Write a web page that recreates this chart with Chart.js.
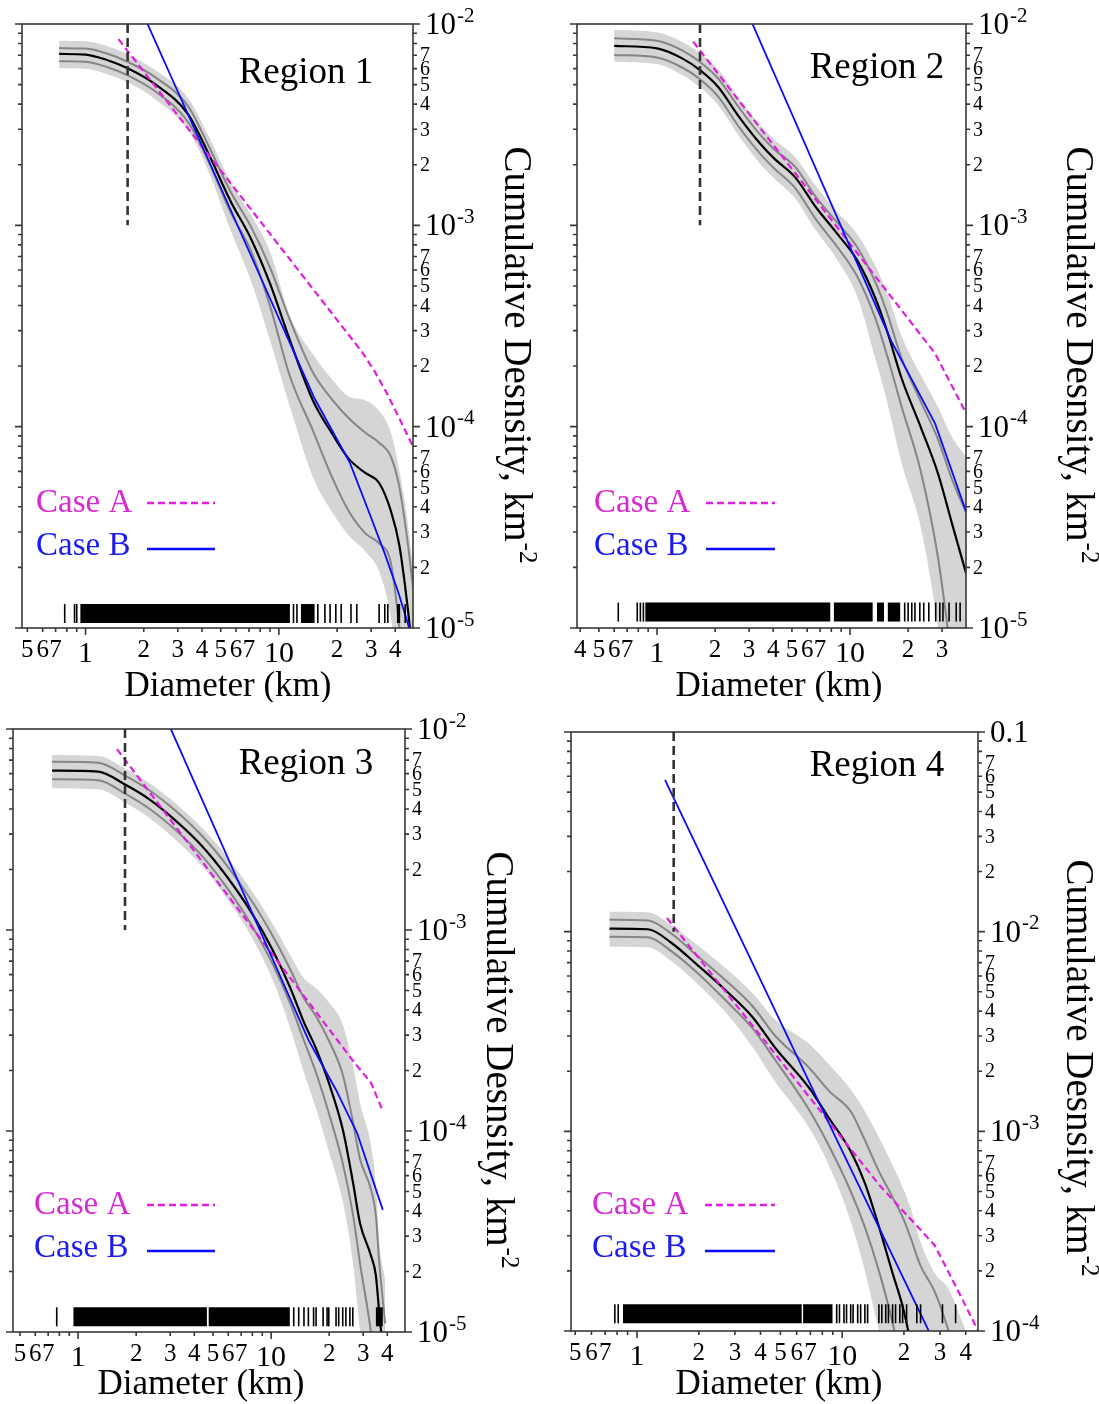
<!DOCTYPE html>
<html>
<head>
<meta charset="utf-8">
<script src="https://cdn.jsdelivr.net/npm/chart.js@4.4.1/dist/chart.umd.min.js"></script>
<style>
  html, body { margin: 0; padding: 0; background: #fff; }
  #wrap { position: relative; width: 1099px; height: 1404px; background: #fff; }
  canvas { position: absolute; }
</style>
</head>
<body>
<div id="wrap">
  <canvas id="c1" width="550" height="702" style="left:0;top:0"></canvas>
  <canvas id="c2" width="549" height="702" style="left:550px;top:0"></canvas>
  <canvas id="c3" width="550" height="702" style="left:0;top:702px"></canvas>
  <canvas id="c4" width="549" height="702" style="left:550px;top:702px"></canvas>
</div>
<script>
// ---- tick labels ----
const xTicksA = [0.5, 0.6, 0.7, 1, 2, 3, 4, 5, 6, 7, 10, 20, 30, 40];
const xLabelsA = ['5', '6', '7', '1', '2', '3', '4', '5', '6', '7', '10', '2', '3', '4'];
const xTicksB = [0.4, 0.5, 0.6, 0.7, 1, 2, 3, 4, 5, 6, 7, 10, 20, 30];
const xLabelsB = ['4', '5', '6', '7', '1', '2', '3', '4', '5', '6', '7', '10', '2', '3'];
const yDecadesA = [1e-5, 1e-4, 1e-3, 1e-2];
const yDecadeLabelsA = ['10^-5', '10^-4', '10^-3', '10^-2'];
const yDecadesB = [1e-4, 1e-3, 1e-2, 0.1];
const yDecadeLabelsB = ['10^-4', '10^-3', '10^-2', '0.1'];
const minorDigits = [2, 3, 4, 5, 6, 7];

// ---- Region 1 ----
const r1Diam = [0.73, 1.0, 1.3, 1.65, 2.3, 3.4, 4.4, 5.6, 7.2, 9.0, 11.4, 15, 19, 23, 28, 33, 38, 42, 46, 49.5];
const r1Median = [7.10e-3, 7.05e-3, 6.61e-3, 6.03e-3, 5.01e-3, 3.55e-3, 2.19e-3, 1.33e-3, 8.51e-4, 5.13e-4, 2.69e-4, 1.35e-4, 9.12e-5, 6.92e-5, 5.89e-5, 5.25e-5, 3.80e-5, 2.57e-5, 1.35e-5, 7.08e-6];
const r1Upper1 = [7.59e-3, 7.55e-3, 7.11e-3, 6.49e-3, 5.43e-3, 3.89e-3, 2.40e-3, 1.48e-3, 9.77e-4, 6.17e-4, 3.39e-4, 1.86e-4, 1.35e-4, 1.10e-4, 9.33e-5, 8.32e-5, 7.08e-5, 5.01e-5, 2.82e-5, 1.58e-5];
const r1Lower1 = [6.53e-3, 6.49e-3, 6.10e-3, 5.56e-3, 4.62e-3, 3.24e-3, 2.00e-3, 1.17e-3, 7.41e-4, 3.98e-4, 1.78e-4, 9.55e-5, 5.50e-5, 3.80e-5, 2.95e-5, 2.63e-5, 2.09e-5, 1.0e-5, 3.98e-6, 2.0e-6];
const r1Upper2 = [8.26e-3, 8.20e-3, 7.76e-3, 7.08e-3, 5.89e-3, 4.27e-3, 2.69e-3, 1.66e-3, 1.12e-3, 7.41e-4, 3.55e-4, 2.29e-4, 1.70e-4, 1.41e-4, 1.35e-4, 1.20e-4, 9.33e-5, 6.03e-5, 3.55e-5, 2.0e-5];
const r1Lower2 = [6.03e-3, 6.00e-3, 5.62e-3, 5.13e-3, 4.22e-3, 2.95e-3, 1.78e-3, 9.55e-4, 5.25e-4, 2.69e-4, 1.26e-4, 5.62e-5, 3.72e-5, 2.88e-5, 2.40e-5, 1.91e-5, 1.12e-5, 5.0e-6, 1.6e-6, 1.0e-6];
const r1CaseADiam = [1.48, 27, 31, 36, 42, 49.5];
const r1CaseA = [8.41e-3, 2.34e-4, 1.91e-4, 1.48e-4, 1.10e-4, 7.94e-5];
const r1CaseBDiam = [1.5, 4.39, 15.3, 23.3, 28.6, 35.3, 41.7, 47.2];
const r1CaseB = [2.04e-2, 2.04e-3, 1.38e-4, 6.61e-5, 3.98e-5, 2.34e-5, 1.48e-5, 1.0e-5];
const r1Cutoff = 1.65;
const r1RugBlocks = [[0.94, 11.4], [13.0, 15.3], [40.8, 42.4]];
const r1RugTicks = [0.78, 0.877, 0.90, 11.9, 12.4, 15.9, 17.3, 18.4, 19.7, 21, 23.6, 25.3, 33, 35.3, 36.6, 45];

// ---- Region 2 ----
const r2Diam = [0.60, 1.0, 1.35, 1.67, 2.07, 2.66, 3.42, 4.04, 5.2, 6.66, 8.56, 10.9, 13.5, 15.5, 18.5, 23.3, 28.6, 33.8, 40];
const r2Median = [7.78e-3, 7.57e-3, 6.75e-3, 5.90e-3, 4.88e-3, 3.46e-3, 2.55e-3, 2.15e-3, 1.73e-3, 1.23e-3, 9.12e-4, 6.70e-4, 4.37e-4, 3.02e-4, 1.74e-4, 9.89e-5, 5.83e-5, 3.29e-5, 1.86e-5];
const r2Upper1 = [8.49e-3, 8.26e-3, 7.40e-3, 6.47e-3, 5.37e-3, 3.84e-3, 2.82e-3, 2.39e-3, 1.95e-3, 1.38e-3, 1.035e-3, 7.78e-4, 5.25e-4, 3.72e-4, 2.19e-4, 1.33e-4, 8.63e-5, 5.46e-5, 3.72e-5];
const r2Lower1 = [7.01e-3, 6.82e-3, 6.08e-3, 5.32e-3, 4.37e-3, 3.08e-3, 2.27e-3, 1.92e-3, 1.53e-3, 1.07e-3, 7.85e-4, 5.57e-4, 3.47e-4, 2.29e-4, 1.26e-4, 5.96e-5, 2.22e-5, 6.56e-6, 1.48e-6];
const r2Upper2 = [9.35e-3, 9.10e-3, 8.15e-3, 7.18e-3, 5.97e-3, 4.26e-3, 3.15e-3, 2.68e-3, 2.18e-3, 1.57e-3, 1.17e-3, 9.04e-4, 6.31e-4, 4.68e-4, 2.82e-4, 1.80e-4, 1.25e-4, 8.85e-5, 7.08e-5];
const r2Lower2 = [6.50e-3, 6.32e-3, 5.58e-3, 4.85e-3, 3.96e-3, 2.78e-3, 2.02e-3, 1.71e-3, 1.36e-3, 9.44e-4, 6.76e-4, 4.43e-4, 2.19e-4, 1.35e-4, 6.61e-5, 3.13e-5, 9.91e-6, 2.61e-6, 5.89e-7];
const r2CaseADiam = [1.54, 27.6, 32.6, 39.9];
const r2CaseA = [8.17e-3, 2.31e-4, 1.70e-4, 1.17e-4];
const r2CaseBDiam = [2.5, 16.3, 27.6, 39.9];
const r2CaseB = [1.63e-2, 2.68e-4, 1.035e-4, 3.80e-5];
const r2Cutoff = 1.67;
const r2RugBlocks = [[0.87, 7.9], [8.25, 13.1], [13.8, 15.0], [15.7, 18.2]];
const r2RugTicks = [0.63, 0.79, 0.82, 0.85, 19.2, 20.0, 20.9, 21.7, 23.0, 24.1, 25.6, 27.8, 29.2, 30.3, 32.6, 35.5, 37.2];

// ---- Region 3 ----
const r3Diam = [0.733, 1.27, 1.77, 2.36, 3.18, 4.43, 5.91, 7.96, 10.2, 12.5, 14.8, 17.1, 19.9, 23.5, 26.5, 28.9, 32.9, 34.9, 36.3, 39];
const r3Median = [6.21e-3, 6.14e-3, 5.26e-3, 4.44e-3, 3.52e-3, 2.59e-3, 1.84e-3, 1.21e-3, 7.94e-4, 5.22e-4, 3.47e-4, 2.57e-4, 1.74e-4, 1.02e-4, 5.62e-5, 3.47e-5, 2.40e-5, 1.91e-5, 1.26e-5, 6.31e-6];
const r3Upper1 = [6.87e-3, 6.79e-3, 5.83e-3, 4.93e-3, 3.94e-3, 2.91e-3, 2.09e-3, 1.39e-3, 9.33e-4, 6.43e-4, 4.57e-4, 3.72e-4, 2.82e-4, 1.91e-4, 1.12e-4, 7.24e-5, 5.13e-5, 3.80e-5, 2.24e-5, 1.10e-5];
const r3Lower1 = [5.62e-3, 5.56e-3, 4.74e-3, 3.99e-3, 3.16e-3, 2.31e-3, 1.62e-3, 1.05e-3, 6.76e-4, 4.35e-4, 2.82e-4, 1.95e-4, 1.23e-4, 6.92e-5, 3.89e-5, 2.19e-5, 1.0e-5, 6.03e-6, 3.16e-6, 1.0e-6];
const r3Upper2 = [7.43e-3, 7.35e-3, 6.32e-3, 5.36e-3, 4.29e-3, 3.19e-3, 2.32e-3, 1.56e-3, 1.07e-3, 7.55e-4, 5.75e-4, 5.13e-4, 4.37e-4, 3.39e-4, 2.14e-4, 1.38e-4, 8.51e-5, 5.37e-5, 2.82e-5, 1.82e-5];
const r3Lower2 = [5.07e-3, 5.01e-3, 4.28e-3, 3.59e-3, 2.83e-3, 2.06e-3, 1.43e-3, 9.18e-4, 5.62e-4, 3.30e-4, 1.95e-4, 1.29e-4, 7.94e-5, 4.47e-5, 2.24e-5, 1.0e-5, 3.80e-6, 1.91e-6, 1.0e-6, 3.98e-7];
const r3CaseADiam = [1.59, 27, 32.9, 37.5];
const r3CaseA = [7.94e-3, 2.19e-4, 1.74e-4, 1.29e-4];
const r3CaseBDiam = [2.5, 15.6, 21.7, 27.9, 37.9];
const r3CaseB = [1.51e-2, 2.84e-4, 1.60e-4, 9.77e-5, 4.05e-5];
const r3Cutoff = 1.75;
const r3RugBlocks = [[0.946, 4.65], [4.75, 12.5], [34.9, 37.9]];
const r3RugTicks = [0.775, 13.1, 13.9, 14.8, 15.6, 16.6, 17.1, 18.6, 19.5, 19.9, 21.7, 22.4, 23.5, 24.4, 25.6, 26.5];

// ---- Region 4 ----
const r4Diam = [0.734, 1.13, 1.48, 1.96, 2.68, 3.67, 4.7, 6.87, 8.69, 11.0, 12.9, 15.1, 17.6, 19.7, 21.5, 24, 28.2, 33, 39.8];
const r4Median = [1.035e-2, 1.028e-2, 8.75e-3, 6.84e-3, 5.13e-3, 3.72e-3, 2.63e-3, 1.66e-3, 1.15e-3, 7.94e-4, 5.50e-4, 3.33e-4, 1.95e-4, 1.33e-4, 8.91e-5, 5.01e-5, 2.0e-5, 6.31e-6, 1.58e-6];
const r4Upper1 = [1.146e-2, 1.138e-2, 9.73e-3, 7.59e-3, 5.75e-3, 4.22e-3, 3.02e-3, 2.09e-3, 1.58e-3, 1.26e-3, 9.02e-4, 6.31e-4, 4.68e-4, 3.72e-4, 2.95e-4, 2.14e-4, 1.58e-4, 1.0e-4, 5.01e-5];
const r4Lower1 = [9.44e-3, 9.38e-3, 7.94e-3, 6.24e-3, 4.57e-3, 3.27e-3, 2.29e-3, 1.29e-3, 8.32e-4, 5.01e-4, 3.31e-4, 2.0e-4, 1.10e-4, 6.31e-5, 3.55e-5, 1.58e-5, 5.01e-6, 1.58e-6, 3.98e-7];
const r4Upper2 = [1.259e-2, 1.25e-2, 1.07e-2, 8.61e-3, 6.61e-3, 4.90e-3, 3.63e-3, 2.75e-3, 2.14e-3, 1.62e-3, 1.26e-3, 9.33e-4, 6.76e-4, 5.25e-4, 4.17e-4, 2.82e-4, 1.95e-4, 1.62e-4, 1.02e-4];
const r4Lower2 = [8.41e-3, 8.36e-3, 7.08e-3, 5.50e-3, 3.98e-3, 2.63e-3, 1.78e-3, 1.05e-3, 6.61e-4, 3.55e-4, 2.0e-4, 1.0e-4, 5.01e-5, 2.51e-5, 1.26e-5, 5.01e-6, 1.58e-6, 5.01e-7, 1e-7];
const r4CaseADiam = [1.40, 15.2, 28.2, 34, 45.8];
const r4CaseA = [1.17e-2, 5.37e-4, 2.69e-4, 1.86e-4, 1.01e-4];
const r4CaseBDiam = [1.37, 9.7, 27];
const r4CaseB = [5.75e-2, 8.51e-4, 9.55e-5];
const r4Cutoff = 1.51;
const r4RugBlocks = [[0.855, 6.35], [6.45, 8.97]];
const r4RugTicks = [0.78, 0.81, 9.4, 9.7, 10.2, 10.5, 11.0, 11.3, 11.9, 12.3, 12.9, 13.3, 15.1, 15.6, 16.3, 16.8, 17.6, 18.2, 19.1, 19.7, 20.6, 23.1, 24.1, 30.8, 35.7];

// ---- styles ----
const SERIF = "'Liberation Serif', 'Times New Roman', serif";
const MAGENTA = '#e01ee0';
const MAGENTA_TEXT = '#d62ad2';
const BLUE = '#0a0aff';
const BLUE_TEXT = '#1c1cf0';
const GREY = '#858585';
const BAND = '#d5d5d5';
const AXIS = '#383838';

function pts(xs, ys) {
  return xs.map((x, i) => ({ x: x, y: ys[i] }));
}

function supText(ctx, str, x, y, size, supSize, rise, align) {
  const parts = str.split('^');
  ctx.font = size + 'px ' + SERIF;
  const w0 = ctx.measureText(parts[0]).width;
  let w1 = 0;
  if (parts[1]) {
    ctx.font = supSize + 'px ' + SERIF;
    w1 = ctx.measureText(parts[1]).width + 1;
  }
  const x0 = align === 'center' ? x - (w0 + w1) / 2 : x;
  ctx.textAlign = 'left';
  ctx.font = size + 'px ' + SERIF;
  ctx.fillText(parts[0], x0, y);
  if (parts[1]) {
    ctx.font = supSize + 'px ' + SERIF;
    ctx.fillText(parts[1], x0 + w0 + 1, y - rise);
  }
}

const panelDecor = {
  id: 'panelDecor',
  afterDraw(chart, args, o) {
    const ctx = chart.ctx, a = chart.chartArea;
    const xs = chart.scales.x, ys = chart.scales.y;
    ctx.save();
    ctx.setLineDash([]);
    ctx.strokeStyle = AXIS;
    ctx.lineWidth = 1.6;
    ctx.strokeRect(a.left, a.top, a.right - a.left, a.bottom - a.top);

    // tick marks
    ctx.beginPath();
    const e0 = Math.round(Math.log10(ys.min)), e1 = Math.round(Math.log10(ys.max));
    for (let e = e0; e <= e1; e++) {
      for (let m = 1; m <= 9; m++) {
        const v = m * Math.pow(10, e);
        if (v > ys.max * 1.0001) break;
        const py = ys.getPixelForValue(v);
        const len = m === 1 ? 7 : 4;
        ctx.moveTo(a.left - len, py); ctx.lineTo(a.left, py);
        ctx.moveTo(a.right, py); ctx.lineTo(a.right + len, py);
      }
    }
    const f0 = Math.floor(Math.log10(xs.min)), f1 = Math.floor(Math.log10(xs.max));
    for (let e = f0; e <= f1; e++) {
      for (let m = 1; m <= 9; m++) {
        const v = m * Math.pow(10, e);
        if (v < xs.min || v > xs.max) continue;
        const px = xs.getPixelForValue(v);
        const len = m === 1 ? 7 : 4;
        ctx.moveTo(px, a.bottom); ctx.lineTo(px, a.bottom + len);
      }
    }
    ctx.stroke();

    // bottom labels
    ctx.fillStyle = '#000';
    ctx.textBaseline = 'middle';
    ctx.textAlign = 'center';
    o.xTicks.forEach((v, i) => {
      const lg = Math.log10(v);
      const major = Math.abs(lg - Math.round(lg)) < 1e-9;
      const px = xs.getPixelForValue(v);
      ctx.font = (major ? 30 : 25) + 'px ' + SERIF;
      ctx.fillText(o.xLabels[i], px, a.bottom + (major ? 26 : 22));
    });

    // right labels
    o.yDecades.forEach((v, i) => {
      const py = ys.getPixelForValue(v);
      supText(ctx, o.yDecadeLabels[i], a.right + 12, py + 2, 31, 21, 10, 'left');
      if (i < o.yDecades.length - 1) {
        minorDigits.forEach(d => {
          const qy = ys.getPixelForValue(d * v);
          ctx.font = '20px ' + SERIF;
          ctx.textAlign = 'left';
          ctx.fillText(String(d), a.right + 7, qy + 1);
        });
      }
    });

    // axis titles
    ctx.textAlign = 'center';
    ctx.font = '35px ' + SERIF;
    ctx.fillText('Diameter (km)', o.xTitle[0], o.xTitle[1]);
    ctx.save();
    ctx.translate(o.yTitle[0], o.yTitle[1]);
    ctx.rotate(Math.PI / 2);
    supText(ctx, 'Cumulative Desnsity, km^-2', 0, 0, 39, 25, 12, 'center');
    ctx.restore();

    // panel title
    ctx.textAlign = 'center';
    ctx.font = '37px ' + SERIF;
    ctx.fillStyle = '#000';
    ctx.fillText(o.title, o.titlePos[0], o.titlePos[1]);

    // legend
    const lg = o.legend;
    ctx.textAlign = 'left';
    ctx.font = '33px ' + SERIF;
    ctx.fillStyle = MAGENTA_TEXT;
    ctx.fillText('Case A', lg.x, lg.rows[0]);
    ctx.fillStyle = BLUE_TEXT;
    ctx.fillText('Case B', lg.x, lg.rows[1]);
    ctx.lineWidth = 2.4;
    ctx.strokeStyle = MAGENTA;
    ctx.setLineDash([7, 4]);
    ctx.beginPath();
    ctx.moveTo(lg.line[0], lg.rows[0]); ctx.lineTo(lg.line[1], lg.rows[0]);
    ctx.stroke();
    ctx.setLineDash([]);
    ctx.strokeStyle = BLUE;
    ctx.beginPath();
    ctx.moveTo(lg.line[0], lg.rows[1] + 3); ctx.lineTo(lg.line[1], lg.rows[1] + 3);
    ctx.stroke();
    ctx.restore();
  }
};

function buildPanel(id, p) {
  const curve = { cubicInterpolationMode: 'monotone', clip: 0 };
  const ds = [
    Object.assign({ data: pts(p.diam, p.upper2), borderWidth: 0, borderColor: BAND, backgroundColor: BAND, fill: '+1', order: 9 }, curve),
    Object.assign({ data: pts(p.diam, p.lower2), borderWidth: 0, borderColor: BAND, fill: false, order: 9 }, curve),
    Object.assign({ data: pts(p.diam, p.upper1), borderColor: GREY, borderWidth: 2, order: 8 }, curve),
    Object.assign({ data: pts(p.diam, p.lower1), borderColor: GREY, borderWidth: 2, order: 8 }, curve),
    Object.assign({ data: pts(p.diam, p.median), borderColor: '#000', borderWidth: 2.2, order: 7 }, curve),
    { data: pts(p.caseADiam, p.caseA), borderColor: MAGENTA, borderWidth: 2.2, borderDash: [7, 4], clip: 0, order: 6 },
    { data: pts(p.caseBDiam, p.caseB), borderColor: BLUE, borderWidth: 1.8, clip: 0, order: 5 },
    { data: [{ x: p.cutoff, y: p.yMax }, { x: p.cutoff, y: p.yMax / 10 }], borderColor: '#333', borderWidth: 2.6, borderDash: [9, 5], clip: 0, order: 4 }
  ];
  p.rugBlocks.forEach(b => {
    ds.push({ data: [{ x: b[0], y: p.rugY }, { x: b[1], y: p.rugY }], borderColor: '#000', borderWidth: 19, borderCapStyle: 'butt', order: 2 });
  });
  ds.push({
    data: p.rugTicks.map(x => ({ x: x, y: p.rugY })),
    showLine: false, pointStyle: 'line', pointRotation: 90, pointRadius: 9.5,
    pointBorderWidth: 1.6, pointBorderColor: '#000', pointBackgroundColor: '#000', order: 1
  });

  const cv = document.getElementById(id);
  return new Chart(cv, {
    type: 'line',
    data: { datasets: ds },
    options: {
      responsive: false,
      animation: false,
      devicePixelRatio: 1,
      events: [],
      layout: { padding: p.pad },
      elements: { point: { radius: 0, hoverRadius: 0, hitRadius: 0 }, line: { tension: 0 } },
      scales: {
        x: { type: 'logarithmic', min: p.xMin, max: p.xMax, display: false },
        y: { type: 'logarithmic', min: p.yMin, max: p.yMax, display: false }
      },
      plugins: {
        legend: { display: false },
        tooltip: { enabled: false },
        panelDecor: {
          xTicks: p.xTicks, xLabels: p.xLabels,
          yDecades: p.yDecades, yDecadeLabels: p.yDecadeLabels,
          title: p.title, titlePos: p.titlePos,
          xTitle: p.xTitle, yTitle: p.yTitle, legend: p.legend
        }
      }
    },
    plugins: [panelDecor]
  });
}

buildPanel('c1', {
  diam: r1Diam, median: r1Median, upper1: r1Upper1, lower1: r1Lower1, upper2: r1Upper2, lower2: r1Lower2,
  caseADiam: r1CaseADiam, caseA: r1CaseA, caseBDiam: r1CaseBDiam, caseB: r1CaseB,
  cutoff: r1Cutoff, rugBlocks: r1RugBlocks, rugTicks: r1RugTicks, rugY: 1.18e-5,
  xMin: 0.469, xMax: 49.4, yMin: 1e-5, yMax: 1e-2,
  pad: { left: 22, top: 24, right: 137, bottom: 74 },
  xTicks: xTicksA, xLabels: xLabelsA, yDecades: yDecadesA, yDecadeLabels: yDecadeLabelsA,
  title: 'Region 1', titlePos: [306, 73], xTitle: [228, 687], yTitle: [515, 355],
  legend: { x: 36, rows: [503, 546], line: [147, 215] }
});

buildPanel('c2', {
  diam: r2Diam, median: r2Median, upper1: r2Upper1, lower1: r2Lower1, upper2: r2Upper2, lower2: r2Lower2,
  caseADiam: r2CaseADiam, caseA: r2CaseA, caseBDiam: r2CaseBDiam, caseB: r2CaseB,
  cutoff: r2Cutoff, rugBlocks: r2RugBlocks, rugTicks: r2RugTicks, rugY: 1.20e-5,
  xMin: 0.385, xMax: 39.9, yMin: 1e-5, yMax: 1e-2,
  pad: { left: 27, top: 24, right: 133, bottom: 74 },
  xTicks: xTicksB, xLabels: xLabelsB, yDecades: yDecadesA, yDecadeLabels: yDecadeLabelsA,
  title: 'Region 2', titlePos: [327, 68], xTitle: [229, 687], yTitle: [527, 355],
  legend: { x: 44, rows: [503, 546], line: [156, 225] }
});

buildPanel('c3', {
  diam: r3Diam, median: r3Median, upper1: r3Upper1, lower1: r3Lower1, upper2: r3Upper2, lower2: r3Lower2,
  caseADiam: r3CaseADiam, caseA: r3CaseA, caseBDiam: r3CaseBDiam, caseB: r3CaseB,
  cutoff: r3Cutoff, rugBlocks: r3RugBlocks, rugTicks: r3RugTicks, rugY: 1.19e-5,
  xMin: 0.46, xMax: 49.4, yMin: 1e-5, yMax: 1e-2,
  pad: { left: 13, top: 27, right: 145, bottom: 72 },
  xTicks: xTicksA, xLabels: xLabelsA, yDecades: yDecadesA, yDecadeLabels: yDecadeLabelsA,
  title: 'Region 3', titlePos: [306, 62], xTitle: [201, 683], yTitle: [497, 358],
  legend: { x: 34, rows: [503, 546], line: [147, 215] }
});

buildPanel('c4', {
  diam: r4Diam, median: r4Median, upper1: r4Upper1, lower1: r4Lower1, upper2: r4Upper2, lower2: r4Lower2,
  caseADiam: r4CaseADiam, caseA: r4CaseA, caseBDiam: r4CaseBDiam, caseB: r4CaseB,
  cutoff: r4Cutoff, rugBlocks: r4RugBlocks, rugTicks: r4RugTicks, rugY: 1.22e-4,
  xMin: 0.477, xMax: 45.9, yMin: 1e-4, yMax: 0.1,
  pad: { left: 21, top: 30, right: 121, bottom: 73 },
  xTicks: xTicksA, xLabels: xLabelsA, yDecades: yDecadesB, yDecadeLabels: yDecadeLabelsB,
  title: 'Region 4', titlePos: [327, 64], xTitle: [229, 683], yTitle: [527, 366],
  legend: { x: 42, rows: [503, 546], line: [155, 225] }
});
</script>
</body>
</html>
